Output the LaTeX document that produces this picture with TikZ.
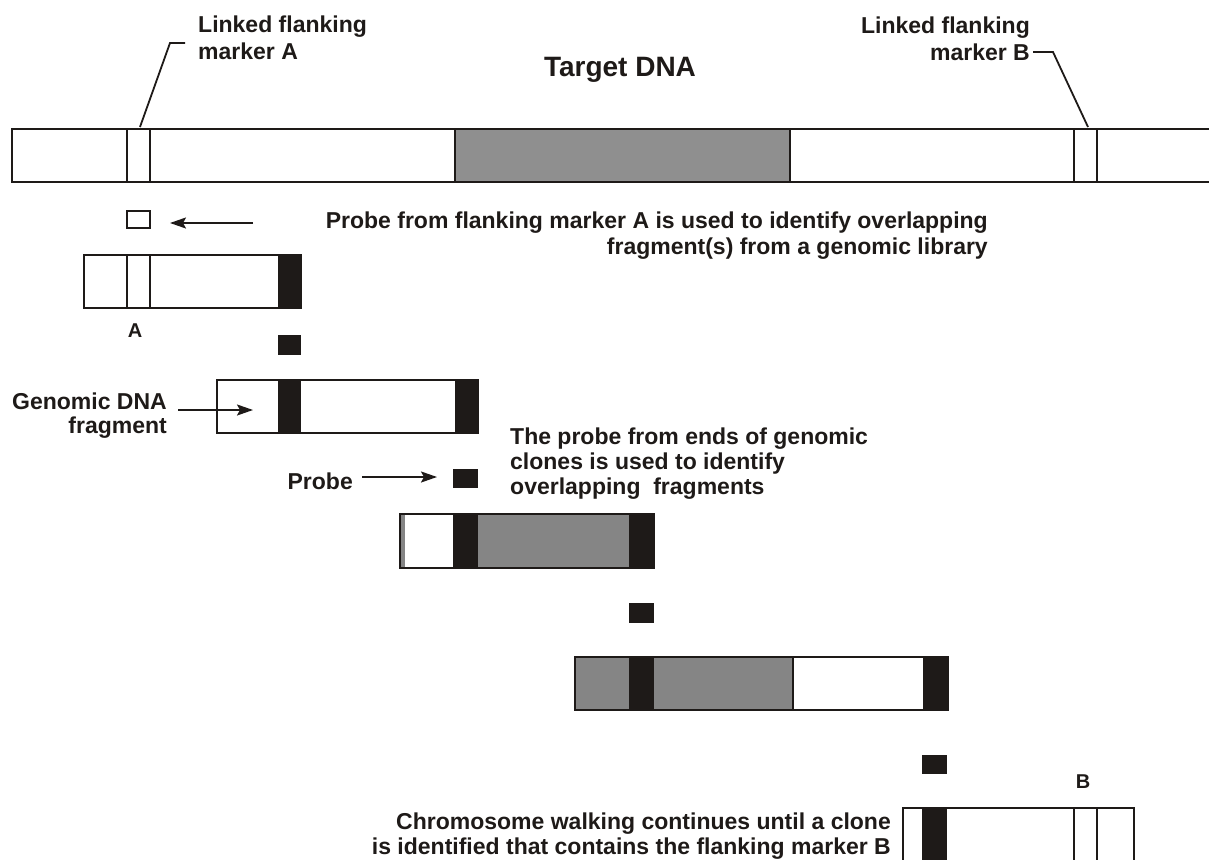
\documentclass[tikz,border=0pt]{standalone}
\usepackage{fontspec}
\setmainfont{Liberation Sans}
\usetikzlibrary{arrows.meta}
\definecolor{dk}{HTML}{1E1A18}
\definecolor{gr}{HTML}{858585}
\definecolor{grt}{HTML}{8F8F8F}
\tikzset{
  box/.style={draw=dk, line width=2.3pt},
  blk/.style={fill=dk},
  lbl/.style={inner sep=0pt, font=\bfseries\fontsize{23}{25}\selectfont, text=dk},
  small/.style={inner sep=0pt, font=\bfseries\fontsize{20}{22}\selectfont, text=dk},
  arr/.style={draw=dk, line width=2pt, -{Stealth[length=16pt,width=11pt,inset=3pt]}},
  lead/.style={draw=dk, line width=1.8pt}
}
\begin{document}
\begin{tikzpicture}[x=1pt,y=-1pt]
\useasboundingbox (0,0) rectangle (1209,859);
% ---------- target DNA
\fill[grt] (455,129) rectangle (790,182);
\draw[box] (1210,129) -- (12,129) -- (12,182) -- (1210,182);
\draw[box] (127,129) -- (127,182) (150,129) -- (150,182);
\draw[box] (455,129) -- (455,182) (790,129) -- (790,182);
\draw[box] (1074,129) -- (1074,182) (1097,129) -- (1097,182);
\coordinate (mA) at (140,127);
\coordinate (mB) at (1088,127);
% ---------- labels top
\node[lbl, anchor=north west, align=left, font=\bfseries\fontsize{23}{27}\selectfont] (lfA) at (198,16) {Linked flanking\\marker A};
\node[lbl, anchor=north east, align=right, font=\bfseries\fontsize{23}{27}\selectfont] (lfB) at (1030,17) {Linked flanking\\marker B};
\node[inner sep=0pt, font=\bfseries\fontsize{28}{32}\selectfont, text=dk, anchor=north] (tgt) at (620,57) {Target DNA};
\coordinate (lA1) at (185,43);
\coordinate (lA2) at (170,43);
\draw[lead] (lA1) -- (lA2) -- (mA);
\coordinate (lB1) at (1033,52);
\coordinate (lB2) at (1053,52);
\draw[lead] (lB1) -- (lB2) -- (mB);
% ---------- probe A
\draw[box, line width=1.8pt] (127,211) rectangle (150,228);
\coordinate (pAs) at (253,223);
\coordinate (pAt) at (170,223);
\draw[arr] (pAs) -- (pAt);
\node[lbl, anchor=north east, align=right, font=\bfseries\fontsize{23}{26}\selectfont] (txt1) at (988,212) {Probe from flanking marker A is used to identify overlapping\\fragment(s) from a genomic library};
% ---------- fragment 1
\fill[blk] (278,255) rectangle (301,308);
\draw[box] (84,255) rectangle (301,308);
\draw[box] (127,255) -- (127,308) (150,255) -- (150,308);
\node[small, anchor=north] (labA) at (135,324) {A};
\fill[blk] (278,335) rectangle (301,355);
% ---------- fragment 2
\fill[blk] (278,380) rectangle (301,433);
\fill[blk] (455,380) rectangle (478,433);
\draw[box] (217,380) rectangle (478,433);
\node[lbl, anchor=north east, align=right, font=\bfseries\fontsize{23}{24}\selectfont] (gen) at (167,393) {Genomic DNA\\fragment};
\coordinate (gs) at (178,410);
\coordinate (gt) at (253,410);
\draw[arr] (gs) -- (gt);
% ---------- probe 2
\node[lbl, anchor=north east] (prb) at (353,473) {Probe};
\coordinate (ps) at (362,477);
\coordinate (pt) at (437,477);
\draw[arr] (ps) -- (pt);
\fill[blk] (453,469) rectangle (478,488);
\node[lbl, anchor=north west, align=left] (txt2) at (510,428) {The probe from ends of genomic\\clones is used to identify\\overlapping\ \ fragments};
% ---------- fragment 3
\fill[gr] (400,514) rectangle (405,568);
\fill[blk] (453,514) rectangle (478,568);
\fill[gr] (478,514) rectangle (629,568);
\fill[blk] (629,514) rectangle (654,568);
\draw[box] (400,514) rectangle (654,568);
\fill[blk] (629,603) rectangle (654,623);
% ---------- fragment 4
\fill[gr] (575,657) rectangle (629,710);
\fill[blk] (629,657) rectangle (654,710);
\fill[gr] (654,657) rectangle (793,710);
\fill[blk] (923,657) rectangle (948,710);
\draw[box] (575,657) rectangle (948,710);
\draw[box] (793,657) -- (793,710);
\fill[blk] (922,755) rectangle (947,774);
% ---------- fragment 5
\node[small, anchor=north] (labB) at (1083,775) {B};
\fill[blk] (922,808) rectangle (947,860);
\draw[box] (903,861) -- (903,808) -- (1134,808) -- (1134,861);
\draw[box] (1074,808) -- (1074,861) (1097,808) -- (1097,861);
\node[lbl, anchor=north east, align=right] (txt3) at (891,813) {Chromosome walking continues until a clone\\is identified that contains the flanking marker B};
\end{tikzpicture}
\end{document}
